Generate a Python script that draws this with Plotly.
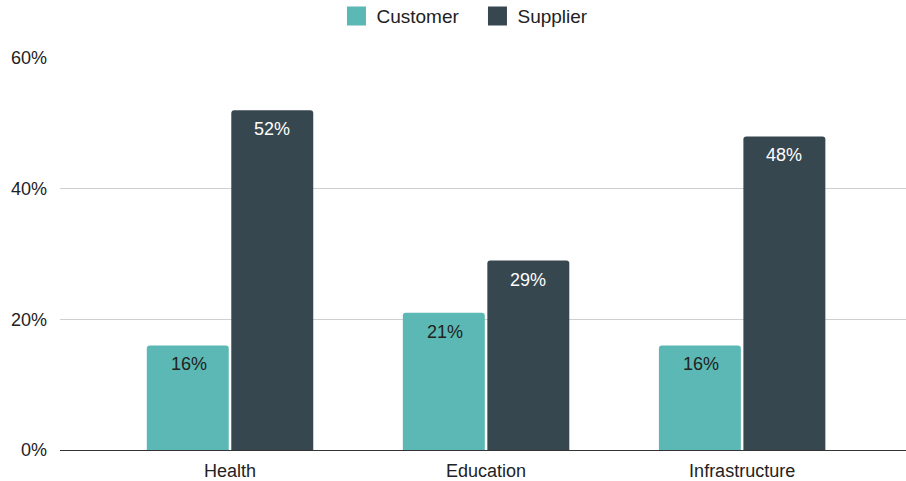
import plotly.graph_objects as go

categories = ["Health", "Education", "Infrastructure"]
customer = [0.16, 0.21, 0.16]
supplier = [0.52, 0.29, 0.48]
customer_labels = ["16%", "21%", "16%"]
supplier_labels = ["52%", "29%", "48%"]
y_ticks = [0, 0.2, 0.4, 0.6]
y_tick_labels = ["0%", "20%", "40%", "60%"]

font = "Liberation Sans, Arial, sans-serif"
c_cust = "#5bb8b4"
c_supp = "#37474f"

fig = go.Figure()
fig.add_trace(go.Bar(
    name="Customer", x=categories, y=customer, showlegend=False,
    marker=dict(color=c_cust, cornerradius=3, line=dict(width=0)),
))
fig.add_trace(go.Bar(
    name="Supplier", x=categories, y=supplier, showlegend=False,
    marker=dict(color=c_supp, cornerradius=3, line=dict(width=0)),
))
# legend entries with larger square swatches
for name, col in [("Customer", c_cust), ("Supplier", c_supp)]:
    fig.add_trace(go.Scatter(
        name=name, x=[None], y=[None], mode="markers",
        marker=dict(symbol="square", size=16, color=col,
                    line=dict(width=3, color=col)),
        showlegend=True,
    ))

# value labels inside bars, near the top
for cat, v, t in zip(categories, customer, customer_labels):
    fig.add_annotation(x=cat, y=v, text=t, showarrow=False, xshift=-41.5,
                       yshift=-19, yanchor="middle",
                       font=dict(size=18, color="#222222", family=font))
for cat, v, t in zip(categories, supplier, supplier_labels):
    fig.add_annotation(x=cat, y=v, text=t, showarrow=False, xshift=41.5,
                       yshift=-19, yanchor="middle",
                       font=dict(size=18, color="#ffffff", family=font))

fig.update_layout(
    width=906, height=481,
    margin=dict(l=60, r=0, t=58, b=31, autoexpand=False),
    paper_bgcolor="white", plot_bgcolor="white",
    barmode="group", bargap=0.34, bargroupgap=0.03,
    font=dict(family=font, size=18, color="#222222"),
    legend=dict(orientation="h", x=0.527, xanchor="center", xref="container",
                y=1.107, yanchor="middle", yref="paper",
                font=dict(size=19, color="#222222"),
                entrywidth=96, entrywidthmode="pixels",
                traceorder="normal"),
    showlegend=True,
)
fig.update_xaxes(range=[-0.664, 2.64], showline=False, ticks="",
                 ticklabelstandoff=8,
                 tickfont=dict(size=18, color="#222222"), fixedrange=True)
fig.update_yaxes(range=[0, 0.6], tickvals=y_ticks, ticktext=y_tick_labels,
                 showgrid=True, gridcolor="#cfcfcf", gridwidth=1,
                 zeroline=True, zerolinecolor="#333333", zerolinewidth=1,
                 ticks="", ticklabelstandoff=12, fixedrange=True,
                 tickfont=dict(size=18, color="#222222"))

fig.write_html("out.html", config={"displayModeBar": False},
               post_script="document.body.style.margin='0';document.body.style.overflow='hidden';")
